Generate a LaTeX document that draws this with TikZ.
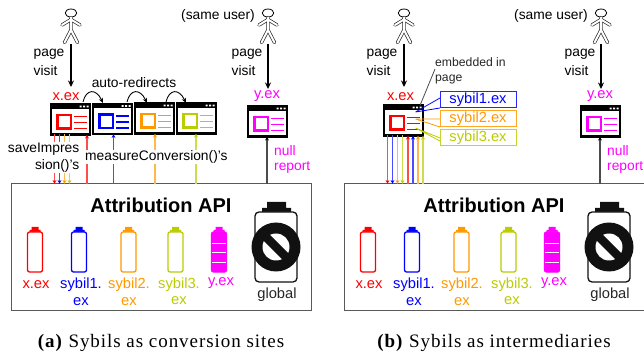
\documentclass[tikz,border=0pt]{standalone}
\usepackage{fontspec}
\setmainfont{Liberation Serif}
\setsansfont{Liberation Sans}
\newfontfamily\capfont[LetterSpace=5]{Liberation Serif}
\usetikzlibrary{arrows.meta,calc}
\definecolor{cred}{HTML}{FF0000}
\definecolor{cblue}{HTML}{0000FF}
\definecolor{corange}{HTML}{FF9900}
\definecolor{clime}{HTML}{BBCC00}
\definecolor{cmag}{HTML}{FF00FF}
\definecolor{cink}{HTML}{111111}
\tikzset{
  lbl/.style={font=\sffamily\fontsize{13.8}{16}\selectfont,inner sep=0pt,align=center},
  clbl/.style={font=\sffamily\fontsize{14.7}{17}\selectfont,inner sep=0pt,align=center,text=#1},
  lbll/.style={lbl,align=left,anchor=west},
  winbox/.style={draw=black,line width=2.2pt,fill=white,inner sep=0pt,outer sep=0pt,anchor=north west,minimum width=#1,minimum height=30pt},
  visit/.style={-{Stealth[length=6.5pt,width=6pt]},line width=1.2pt,black},
  thinarrow/.style={-{Stealth[length=4pt,width=3.8pt,color=#1]},line width=1.1pt,draw=#1!70},
  apibox/.style={draw=black!65,line width=1pt,fill=white,inner sep=0pt,outer sep=0pt,anchor=north west,minimum width=300pt,minimum height=126pt},
  sybilbox/.style={draw=#1!85,line width=1pt,fill=white,clbl=#1,minimum width=76pt,minimum height=16pt,outer sep=0pt},
  capstyle/.style={font=\capfont\fontsize{19}{22}\selectfont,inner sep=0pt},
}
\newcommand{\webwin}[5][39pt]{%
  \node[winbox=#1] (#2) at (#3,#4) {};
  \begin{scope}[shift={(#3,#4)}]
    \fill[black] (0,0) rectangle (39,4.2);
    \fill[white] (28.5,1.2) rectangle +(2,1.8) (32,1.2) rectangle +(2,1.8) (35.5,1.2) rectangle +(2,1.8);
    \draw[#5,line width=2.2pt] (6.5,10.5) rectangle (20,24);
    \draw[#5,line width=1.6pt] (23,12) -- (36,12) (23,18) -- (36,18) (23,24) -- (36,24);
  \end{scope}}
\newcommand{\batt}[2]{%
  \fill[#2] (#1-3.5,227) rectangle (#1+3.5,230) (#1-5.5,230) rectangle (#1+5.5,233);
  \draw[#2,line width=1.3pt,rounded corners=2pt,fill=white] (#1-7.5,232) rectangle (#1+7.5,272);}
\newcommand{\personfig}[2]{%
  \coordinate (#2) at (#1,44);
  \begin{scope}[shift={(#1,0)},line cap=round,line join=round]
    \draw[black,line width=0.8pt,fill=white] (0,13) ellipse (5.8 and 4);
    \draw[black!85,line width=3.4pt] (-9,25) -- (0,19.5) -- (9,25) (-6.5,42.5) -- (0,30) -- (6.5,42.5) (0,17.5) -- (0,30);
    \draw[white,line width=2pt] (-9,25) -- (0,19.5) -- (9,25) (-6.5,42.5) -- (0,30) -- (6.5,42.5) (0,17.5) -- (0,30);
  \end{scope}}
\newcommand{\commonparts}{%
  \personfig{71}{pa}
  \personfig{268}{pb}
  \node[lbl] at (218,16) {(same user)};
  \node[lbll] at (33.5,54) {page};
  \node[lbll] at (33.5,70.5) {visit};
  \node[lbll] at (231.5,54) {page};
  \node[lbll] at (231.5,71) {visit};
  \node[clbl=cmag] (ylabel) at (267,96) {y.ex};
  \webwin{ywin}{248}{106.5}{cmag}
  \node[apibox] (api) at (11,184) {};
  \coordinate (xtip) at (71,87);
  \draw[visit] (pa) -- (xtip);
  \coordinate (ytip) at (268,89);
  \draw[visit] (pb) -- (ytip);
  \draw[thinarrow=black] ([xshift=256pt]api.north west) -- ([xshift=19pt]ywin.south west);
  \node[lbll,text=cmag] at (274,151) {null};
  \node[lbll,text=cmag] at (274,167) {report};
  \node[font=\sffamily\bfseries\fontsize{20}{24}\selectfont,inner sep=0pt] at (161,205) {Attribution API};
  \batt{35}{cred}
  \batt{79}{cblue}
  \batt{128.5}{corange}
  \batt{175.5}{clime}
  \batt{219}{cmag}
  \fill[cmag,rounded corners=2pt] (211.5,232) rectangle (226.5,272);
  \draw[white,line width=0.5pt] (212,243) -- (226,243) (212,252.5) -- (226,252.5) (212,262) -- (226,262);
  \node[clbl=cred] at (36,285) {x.ex};
  \node[clbl=cblue] at (81,285) {sybil1.};
  \node[clbl=cblue] at (81,302) {ex};
  \node[clbl=corange] at (129,285) {sybil2.};
  \node[clbl=corange] at (129,302) {ex};
  \node[clbl=clime] at (179,285) {sybil3.};
  \node[clbl=clime] at (179,301) {ex};
  \node[clbl=cmag] at (221,283.5) {y.ex};
  \node[clbl=black!85] at (277,295) {global};
  \fill[cink] (267,202) rectangle (286,208) (262,208) rectangle (291,213);
  \draw[cink,line width=1.3pt,rounded corners=4pt,fill=white] (255,212) rectangle (297,282);
  \fill[cink] (276,247) circle (24.5);
  \fill[white] (276,247) circle (13.5);
  \draw[cink,line width=8.5pt] (265.5,236.5) -- (286.5,257.5);
}
\begin{document}
\begin{tikzpicture}[x=1pt,y=-1pt]
\useasboundingbox (0,0) rectangle (644,352);
% ---------- panel (a)
\begin{scope}[name prefix=a-]
  \commonparts
  \node[clbl=cred] (xlabel) at (66,97) {x.ex};
  \webwin{w1}{51}{104.5}{cred}
  \webwin{w2}{93}{104}{cblue}
  \webwin{w3}{135}{103.5}{corange}
  \webwin{w4}{177}{103.5}{clime}
  \foreach \dx/\c in {43.5/cred,48.5/cblue,53.5/corange,58.5/clime}{
    \pgfmathsetlengthmacro{\wx}{\dx-40}
    \draw[thinarrow=\c] ([xshift=\wx]w1.south west) -- ([xshift=\dx pt]api.north west);
  }
  \draw[thinarrow=cred] ([xshift=76pt]api.north west) -- ([xshift=36pt]w1.south west);
  \draw[thinarrow=cblue] ([xshift=102.5pt]api.north west) -- ([xshift=20.5pt]w2.south west);
  \draw[thinarrow=corange] ([xshift=144pt]api.north west) -- ([xshift=20pt]w3.south west);
  \draw[thinarrow=clime] ([xshift=185pt]api.north west) -- ([xshift=19pt]w4.south west);
  \node[lbl,fill=white,inner sep=1pt,anchor=east,align=right] at (80.5,157.5) {saveImpres\\[0.5pt]sion()'s};
  \node[lbl,fill=white,inner sep=1pt,anchor=west] at (84,157) {measureConversion()'s};
  \node[lbl] (redir) at (134,83) {auto-redirects};
  \draw[-{Stealth[length=5pt,width=4.5pt]},line width=0.9pt] (83,102) .. controls (86,89) and (96,88) .. (103,103);
  \draw[-{Stealth[length=5pt,width=4.5pt]},line width=0.9pt] (127,102) .. controls (130,89) and (140,88) .. (147,103);
  \draw[-{Stealth[length=5pt,width=4.5pt]},line width=0.9pt] (166,102) .. controls (169,89) and (179,88) .. (186,103);
  \node[capstyle] at (161,343) {\textbf{(a)} Sybils as conversion sites};
\end{scope}
% ---------- panel (b)
\begin{scope}[xshift=333pt,name prefix=b-]
  \commonparts
  \node[clbl=cred] (xlabel) at (67.5,97) {x.ex};
  \webwin{w1}{51}{105.5}{cred}
  \foreach \dx/\c in {43.5/cred,48.5/cblue,53.5/corange,58.5/clime}{
    \pgfmathsetlengthmacro{\wx}{\dx-40}
    \draw[thinarrow=\c] ([xshift=\wx]w1.south west) -- ([xshift=\dx pt]api.north west);
  }
  \foreach \dx/\c in {64/cred,69/cblue,74/corange,79/clime}{
    \pgfmathsetlengthmacro{\wx}{\dx-40}
    \draw[thinarrow=\c] ([xshift=\dx pt]api.north west) -- ([xshift=\wx]w1.south west);
  }
  \coordinate (t1) at (82.5,112);
  \coordinate (t2) at (82.5,119);
  \coordinate (t3) at (82.5,128);
  \node[sybilbox=cblue] (s1) at (145,100) {sybil1.ex};
  \node[sybilbox=corange] (s2) at (145,119) {sybil2.ex};
  \node[sybilbox=clime] (s3) at (145,138) {sybil3.ex};
  \draw[cblue,line width=0.8pt] (t1) -- ([yshift=2pt]s1.west) (t1) -- (s1.south west);
  \draw[corange,line width=0.8pt] (t2) -- (s2.west) (t2) -- (s2.south west);
  \draw[clime,line width=0.8pt] (t3) -- ([yshift=-3pt]s3.west) (t3) -- (s3.west);
  \node[font=\sffamily\fontsize{12.2}{14}\selectfont,inner sep=0pt,align=left,anchor=west,text=black!85] (emb) at (102,71) {embedded in\\[0.5pt]page};
  \draw[black!70,line width=0.8pt] ([yshift=2pt]emb.west) -- ([xshift=-3pt]w1.north east);
  \node[capstyle] at (161,343) {\textbf{(b)} Sybils as intermediaries};
\end{scope}
\end{tikzpicture}
\end{document}
